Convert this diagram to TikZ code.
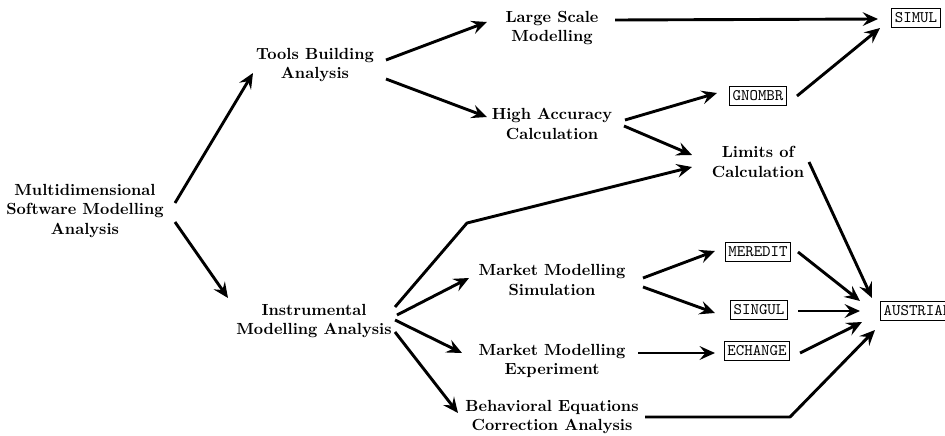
\documentclass[tikz,border=0pt]{standalone}
\usetikzlibrary{arrows.meta}
\usetikzlibrary{calc}
\tikzset{
    tnode/.style = {align=center, inner sep=0pt, text centered, font=\bfseries},
    bnode/.style = {rectangle, draw=black, inner sep=2pt, minimum height=11.5pt, font=\ttfamily, line width=0.5pt},
    link/.style = {-{Stealth[length=9.5pt, width=8.5pt, inset=3.5pt]}, line width=1.8pt, line join=round}
}
\begin{document}
\begin{tikzpicture}[x=0.0218cm, y=-0.0218cm]
    \useasboundingbox (0,0) rectangle (945,436);
    \clip (0,0) rectangle (945,436);

    % text nodes
    \node [tnode] (msma)   at (85,211)  {Multidimensional\\Software Modelling\\Analysis};
    \node [tnode] (tools)  at (315,65)  {Tools Building\\Analysis};
    \node [tnode] (instr)  at (314,321) {Instrumental\\Modelling Analysis};
    \node [tnode] (large)  at (552,28)  {Large Scale\\Modelling};
    \node [tnode] (hacc)   at (552,124) {High Accuracy\\Calculation};
    \node [tnode] (limits) at (758,162) {Limits of\\Calculation};
    \node [tnode] (mms)    at (552,280) {Market Modelling\\Simulation};
    \node [tnode] (mme)    at (552,361) {Market Modelling\\Experiment};
    \node [tnode] (beca)   at (552,417) {Behavioral Equations\\Correction Analysis};

    % program boxes
    \node [bnode] (simul)    at (916,18)  {SIMUL};
    \node [bnode] (gnombr)   at (758,96)  {GNOMBR};
    \node [bnode] (meredit)  at (758,252) {MEREDIT};
    \node [bnode] (singul)   at (759,310) {SINGUL};
    \node [bnode] (echange)  at (757,351) {ECHANGE};
    \node [bnode, anchor=west] (austrian) at (880,311) {AUSTRIAN};

    \coordinate (kneeA) at (467,223);
    \coordinate (kneeB) at (790,417);

    % connectors
    \draw [link] ($(msma)+(90,-8)$) -- ($(tools)+(-62,8)$);
    \draw [link] ($(msma)+(90,11)$) -- ($(instr)+(-86,-23)$);
    \draw [link] ($(tools)+(71,-5)$) -- ($(large)+(-65,-6)$);
    \draw [link] ($(tools)+(71,14)$) -- ($(hacc)+(-65,-7)$);
    \draw [link] ($(large)+(63,-8)$) -- ($(simul)+(-38,1)$);
    \draw [link] ($(hacc)+(73,-4)$) -- ($(gnombr)+(-41,-3)$);
    \draw [link] ($(hacc)+(72,2)$) -- ($(limits)+(-66,-7)$);
    \draw [link] ($(gnombr)+(39,0)$) -- ($(simul)+(-36,10)$);
    \draw [link] ($(instr)+(81,-14)$) -- (kneeA) -- ($(limits)+(-66,5)$);
    \draw [link] ($(instr)+(83,-6)$) -- ($(mms)+(-83,-2)$);
    \draw [link] ($(instr)+(81,-1)$) -- ($(mme)+(-90,-8)$);
    \draw [link] ($(instr)+(81,11)$) -- ($(beca)+(-94,-4)$);
    \draw [link] ($(mms)+(91,-2)$) -- ($(meredit)+(-43,-1)$);
    \draw [link] ($(mms)+(91,7)$) -- ($(singul)+(-44,3)$);
    \draw [link] ($(mme)+(86,-8)$) -- ($(echange)+(-42,2)$);
    \draw [link] ($(limits)+(51,0)$) -- ($(austrian.west)+(-8,-13)$);
    \draw [link] ($(meredit)+(40,0)$) -- ($(austrian.west)+(-20,-10)$);
    \draw [link] ($(singul)+(39,1)$) -- ($(austrian.west)+(-20,0)$);
    \draw [link] ($(echange)+(43,2)$) -- ($(austrian.west)+(-18,11)$);
    \draw [link] ($(beca)+(93,0)$) -- (kneeB) -- ($(austrian.west)+(-5,19)$);
\end{tikzpicture}
\end{document}
